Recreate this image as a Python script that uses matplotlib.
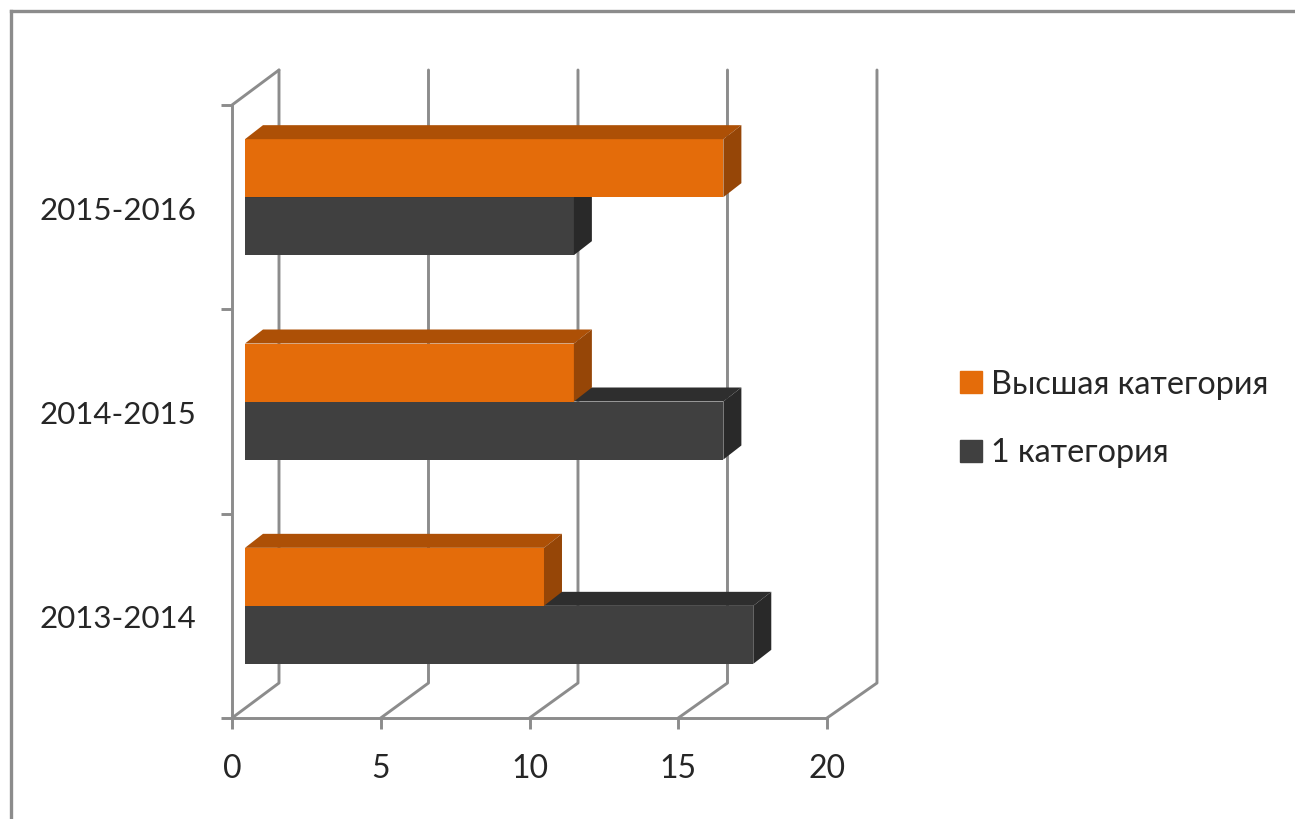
import matplotlib
matplotlib.use("Agg")
import matplotlib.pyplot as plt
from matplotlib.lines import Line2D
from matplotlib.patches import Patch

plt.rcParams["font.family"] = ["Lato", "DejaVu Sans"]

years = ["2013-2014", "2014-2015", "2015-2016"]
first_cat = [17, 16, 11]
top_cat = [10, 11, 16]
x_ticks = [0, 5, 10, 15, 20]
series_names = ["Высшая категория", "1 категория"]

W, H = 1295, 819
GREY = "#8c8c8c"
TEXT = "#262626"
ORANGE = ("#e46c0a", "#ad5006", "#964607")  # front, top, side
DARK = ("#404040", "#2e2e2e", "#292929")
LW = 2.1

# scale of the axes in pixels per data unit
PX_X = 595 / 20
PX_Y = 613 / 3

# fake 3d offsets (pixels -> data)
WALL_DX, WALL_DY = 47 / PX_X, 35 / PX_Y
BAR_DX, BAR_DY = 18 / PX_X, 14 / PX_Y
GAP_X, GAP_Y = 13 / PX_X, 10 / PX_Y
BAR_H = 58 / PX_Y
# the 3d projection draws things inside the box slightly wider than the front axis
STRETCH = 1.005

fig = plt.figure(figsize=(W / 100, H / 100), dpi=100)
ax = fig.add_axes([232 / W, (H - 718) / H, 595 / W, 613 / H])
ax.set_xlim(0, 20)
ax.set_ylim(0, 3)
for name in ["top", "right"]:
    ax.spines[name].set_visible(False)
for name in ["left", "bottom"]:
    ax.spines[name].set_color(GREY)
    ax.spines[name].set_linewidth(LW)

ax.set_xticks(x_ticks)
ax.set_yticks(range(4))
ax.set_yticklabels([])
ax.set_yticks([i + 0.495 for i in range(3)], labels=years, minor=True)
ax.tick_params(axis="both", which="major", length=8, width=LW, color=GREY)
ax.tick_params(axis="x", labelsize=23, labelcolor=TEXT, pad=18)
ax.tick_params(axis="y", which="minor", length=0, pad=25.5, labelsize=22.5, labelcolor=TEXT)


def wall_line(xs, ys):
    ax.plot(xs, ys, color=GREY, lw=LW, zorder=1, clip_on=False, solid_capstyle="round")


# back wall and floor
for t in x_ticks:
    back = t * STRETCH + WALL_DX
    wall_line([t, back, back], [0, WALL_DY, 3 + WALL_DY])
wall_line([0, WALL_DX], [3, 3 + WALL_DY])


def draw_bars(values, base, colors, label):
    front, top, side = colors
    lengths = [v * STRETCH for v in values]
    ax.barh(base, lengths, height=BAR_H, left=GAP_X, align="edge",
            color=front, zorder=3, label=label)
    for v, b in zip(lengths, base):
        x0, x1 = GAP_X, GAP_X + v
        y1 = b + BAR_H
        ax.fill([x0, x0 + BAR_DX, x1 + BAR_DX, x1], [y1, y1 + BAR_DY, y1 + BAR_DY, y1],
                color=top, lw=0, zorder=3)
        ax.fill([x1, x1 + BAR_DX, x1 + BAR_DX, x1], [b, b + BAR_DY, y1 + BAR_DY, y1],
                color=side, lw=0, zorder=3)


centers = [i + 0.5 + GAP_Y for i in range(3)]
draw_bars(first_cat, [c - BAR_H for c in centers], DARK, series_names[1])
draw_bars(top_cat, centers, ORANGE, series_names[0])

handles = [Patch(color=ORANGE[0]), Patch(color=DARK[0])]
leg = fig.legend(handles, series_names, loc="center left",
                 bbox_to_anchor=(960 / W, 1 - 419 / H), frameon=False, fontsize=23.3,
                 labelcolor=TEXT, handlelength=0.67, handleheight=0.67,
                 handletextpad=0.3, labelspacing=1.2, borderpad=0, borderaxespad=0)

# picture border, only top and left are in frame
fig.add_artist(Line2D([11 / W, 11 / W], [0, 1 - 11 / H], color=GREY, lw=2.4))
fig.add_artist(Line2D([11 / W, 1], [1 - 11 / H, 1 - 11 / H], color=GREY, lw=2.4))

fig.savefig("out.png", dpi=100)
